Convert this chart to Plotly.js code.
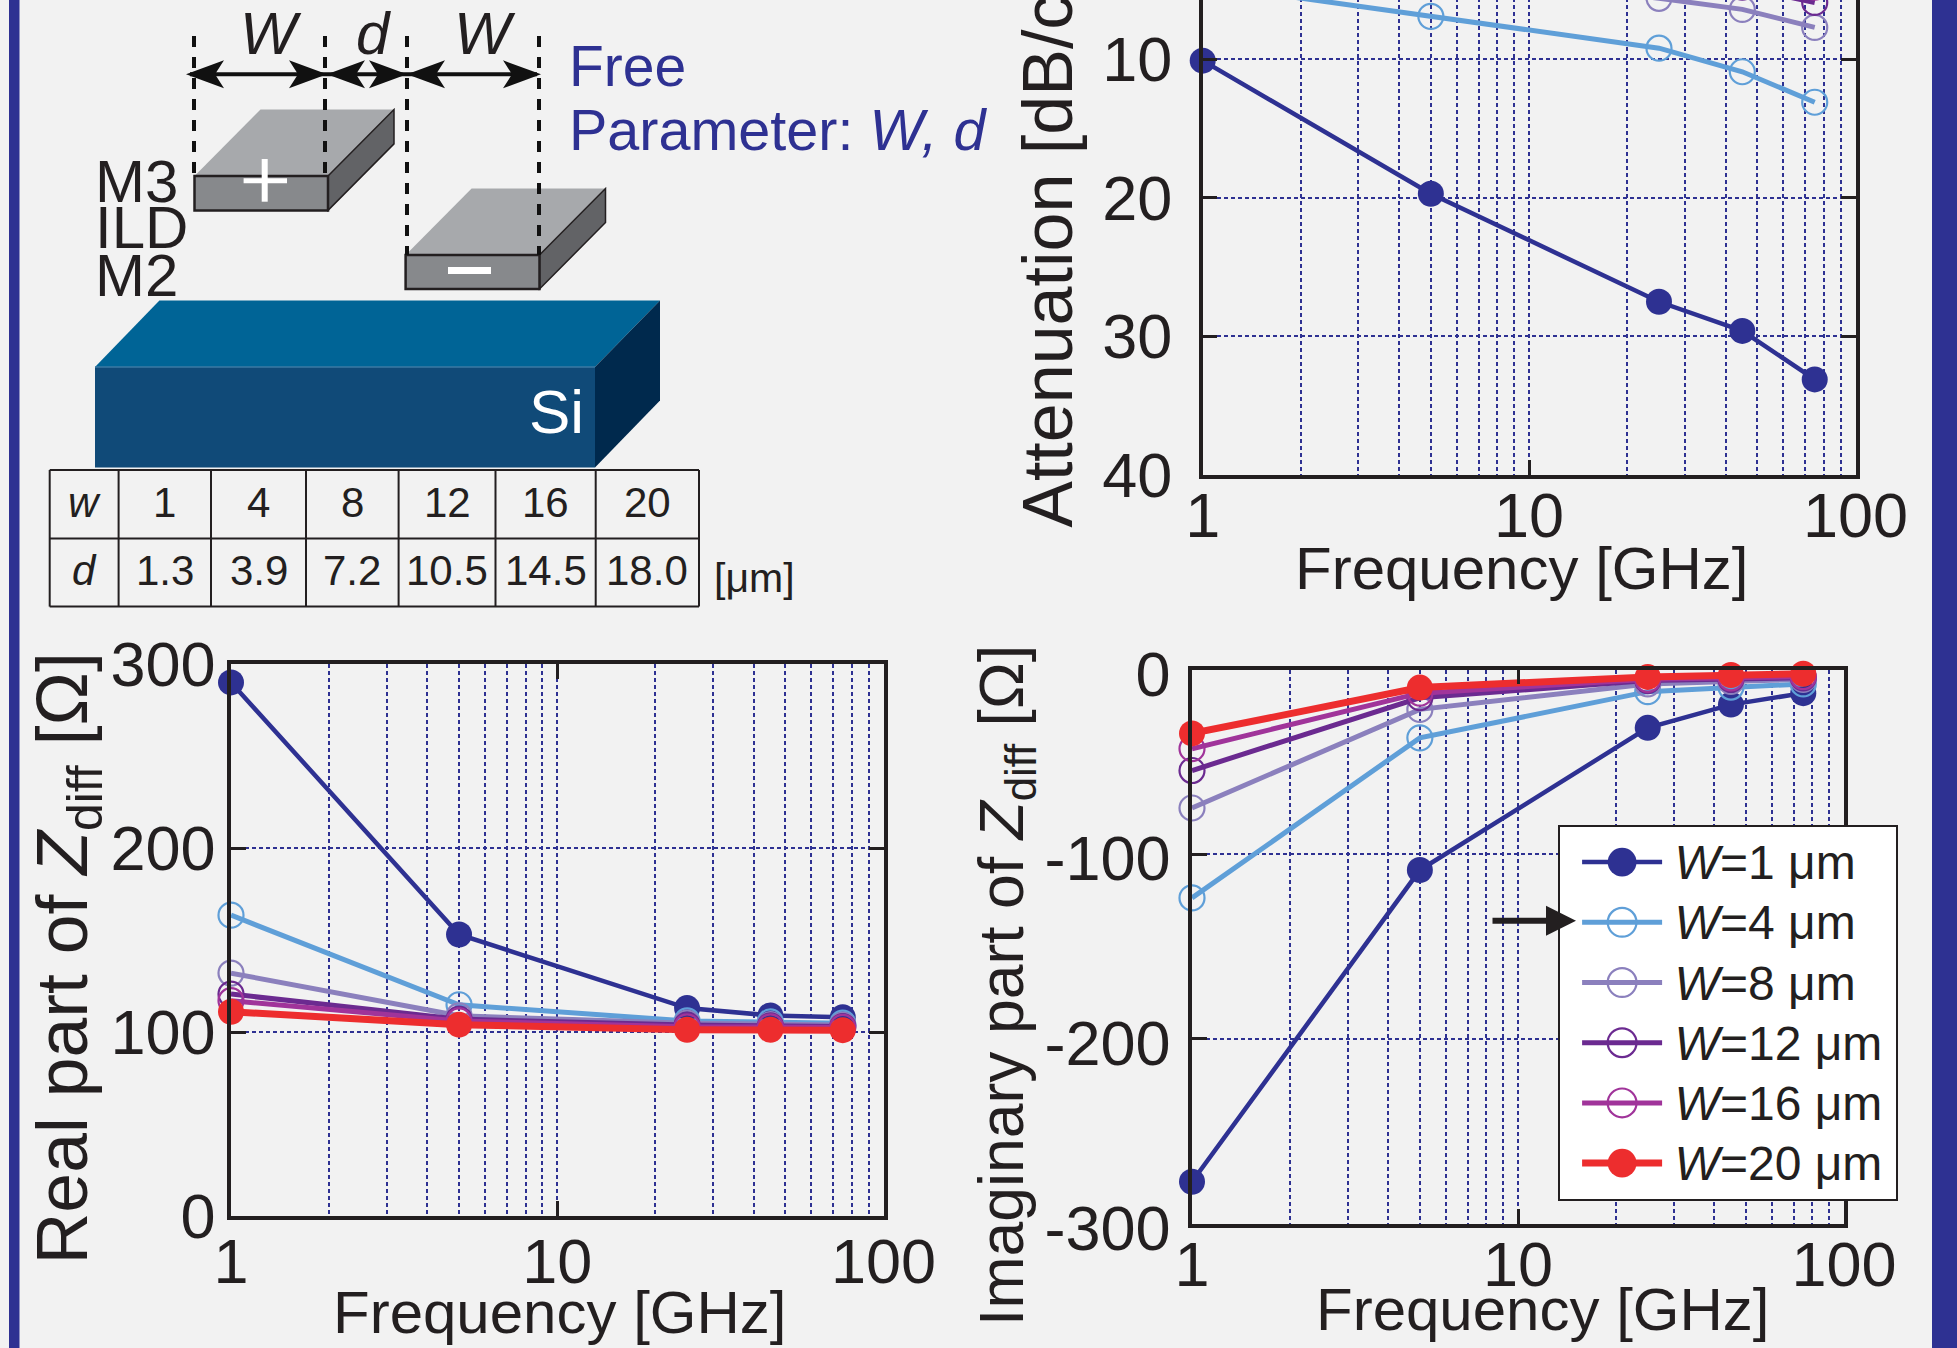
<!DOCTYPE html>
<html><head><meta charset="utf-8">
<script src="https://cdn.plot.ly/plotly-3.0.1.min.js"></script>
<style>html,body{margin:0;padding:0;background:#f2f2f2;overflow:hidden;width:1957px;height:1348px}
#c{position:absolute;left:0;top:-80px;width:1957px;height:1428px}</style>
</head><body><div id="c"></div>
<script>
// ---------- data ----------
const frequencies = [1, 5, 25, 45, 75];
const widthNames = ['<i>W</i>=1 μm','<i>W</i>=4 μm','<i>W</i>=8 μm','<i>W</i>=12 μm','<i>W</i>=16 μm','<i>W</i>=20 μm'];
const seriesColors = ['#2e3192','#5f9fd8','#8b80bd','#6b2a90','#a0349a','#ed2d2e'];
const seriesFilled = [true,false,false,false,false,true];
const seriesLine = [4.5,5,5,5,5,7];

const attW1  = [10.1, 19.7, 27.5, 29.6, 33.1];
const attW4  = [4.6, 6.9, 9.2, 10.9, 13.1];
const attW8  = [2.3, 3.6, 5.6, 6.4, 7.7];
const attW12 = [1.6, 2.5, 4.0, 4.8, 5.9];
const attW16 = [1.2, 2.0, 3.2, 3.9, 4.8];
const attW20 = [1.0, 1.6, 2.6, 3.2, 4.0];

const reW1  = [290, 153, 113, 109, 108];
const reW4  = [163.5, 114.8, 106, 105.5, 104.8];
const reW8  = [132, 108.8, 104.8, 104, 103.8];
const reW12 = [120.6, 107, 103.8, 103.4, 103];
const reW16 = [117, 106, 102.8, 102.8, 102.5];
const reW20 = [111, 104, 101.2, 101.2, 101];

const imW1  = [-277.4, -108.6, -31.6, -19, -12.8];
const imW4  = [-123.7, -37, -12, -9.5, -7.8];
const imW8  = [-75, -21.6, -7.8, -6.5, -5.3];
const imW12 = [-54.7, -15.3, -6, -5.3, -4.5];
const imW16 = [-42.9, -12.8, -5.3, -4.5, -3.8];
const imW20 = [-34.6, -9.8, -4, -3, -2.3];

const tableW = ['1','4','8','12','16','20'];
const tableD = ['1.3','3.9','7.2','10.5','14.5','18.0'];
const freqTicks = [1, 10, 100];
const freqTickText = ['1','10','100'];
const attTicks = [10,20,30,40];
const reTicks = [0,100,200,300];
const imTicks = [-300,-200,-100,0];
const imTickText = ['-300','-200','-100','0'];

// ---------- page geometry ----------
const W=1957, H=1428, OFF=80;
const fx=x=>x/W, fy=y=>1-(y+OFF)/H;
const FONT='"Liberation Sans", Arial, sans-serif', INK='#231f20', BLUE='#2e3192';
const GRID={gridcolor:BLUE,griddash:'4px,3px',gridwidth:2};

function xAxis(l,r,anchor,standoff){return Object.assign({
  type:'log',range:[0,2],domain:[fx(l),fx(r)],anchor,
  tickmode:'array',tickvals:freqTicks,ticktext:freqTickText,
  showline:true,linecolor:INK,linewidth:3.5,mirror:'ticks',
  ticks:'inside',ticklen:15,tickwidth:2.5,tickcolor:INK,
  tickfont:{family:FONT,size:63,color:INK},ticklabelstandoff:standoff,
  showgrid:true,zeroline:false,
  minor:Object.assign({dtick:'D1',showgrid:true,ticks:''},GRID)
},GRID);}
function yAxis(top,bottom,range,vals,text,anchor,standoff,shift){return Object.assign({
  range,domain:[fy(bottom),fy(top)],anchor,
  tickmode:'array',tickvals:vals,ticktext:text||vals.map(String),
  showline:true,linecolor:INK,linewidth:3.5,mirror:'ticks',
  ticks:'inside',ticklen:15,tickwidth:2.5,tickcolor:INK,
  tickfont:{family:FONT,size:63,color:INK},ticklabelstandoff:standoff,ticklabelshift:shift||0,
  showgrid:true,zeroline:false
},GRID);}
const layout={
  width:W,height:H,margin:{l:0,r:0,t:0,b:0,pad:0},autosize:false,
  paper_bgcolor:'#f2f2f2',plot_bgcolor:'#f2f2f2',font:{family:FONT,color:INK},
  xaxis:xAxis(1202.7,1855.5,'y',-17),
  yaxis:yAxis(-79.3,475,[40,0],attTicks,null,'x',14),
  xaxis2:xAxis(231,883.5,'y2',-12),
  yaxis2:yAxis(664,1216,[0,300],reTicks,null,'x2',-1),
  xaxis3:xAxis(1192,1844,'y3',-17),
  yaxis3:yAxis(669.5,1223.5,[-300,0],imTicks,imTickText,'x3',5,4),
  showlegend:true,
  legend:{x:fx(1557.6),y:fy(825),xanchor:'left',yanchor:'top',bgcolor:'#ffffff',
    bordercolor:INK,borderwidth:2,font:{family:FONT,size:44,color:INK},itemwidth:80,
    tracegroupgap:0,itemclick:false,itemdoubleclick:false},
  shapes:[],annotations:[]
};

// ---------- traces ----------
const traces=[];
function addSet(sets,xa,ya,legend){
  sets.forEach((vals,i)=>traces.push({
    x:frequencies,y:vals,xaxis:xa,yaxis:ya,type:'scatter',mode:'lines+markers',
    name:widthNames[i],showlegend:legend,cliponaxis:false,
    line:{color:seriesColors[i],width:seriesLine[i]},
    marker:seriesFilled[i]
      ?{symbol:'circle',size:26,color:seriesColors[i],line:{width:0}}
      :{symbol:'circle-open',size:25,color:seriesColors[i],line:{width:2.2,color:seriesColors[i]}}
  }));
}
addSet([attW1,attW4,attW8,attW12,attW16,attW20],'x','y',false);
addSet([reW1,reW4,reW8,reW12,reW16,reW20],'x2','y2',false);
addSet([imW1,imW4,imW8,imW12,imW16,imW20],'x3','y3',true);

// ---------- schematic helpers ----------
function poly(pts,fill,line,lw){
  const d=pts.map((p,i)=>(i?'L':'M')+fx(p[0])+' '+fy(p[1])).join(' ')+' Z';
  layout.shapes.push({type:'path',xref:'paper',yref:'paper',path:d,fillcolor:fill,
    line:{color:line||fill,width:lw===undefined?(line?2:0):lw},layer:'below'});
}
function seg(x0,y0,x1,y1,color,w,dash){
  layout.shapes.push({type:'line',xref:'paper',yref:'paper',x0:fx(x0),y0:fy(y0),x1:fx(x1),y1:fy(y1),
    line:{color,width:w,dash:dash||'solid'},layer:'below'});
}
function txt(s,x,base,size,color,anchor){
  layout.annotations.push({xref:'paper',yref:'paper',x:fx(x),y:fy(base-0.346*size),text:s,showarrow:false,
    xanchor:anchor||'center',yanchor:'middle',font:{family:FONT,size,color:color||INK},borderpad:0,borderwidth:0});
}
function vtxt(s,baseX,cy,size){
  layout.annotations.push({xref:'paper',yref:'paper',x:fx(baseX-0.346*size),y:fy(cy),text:s,showarrow:false,textangle:-90,
    xanchor:'center',yanchor:'middle',font:{family:FONT,size,color:INK},borderpad:0,borderwidth:0});
}
function head(tip,dir){
  const y=74.3;
  poly([[tip,y],[tip+dir*38,y-14],[tip+dir*29,y],[tip+dir*38,y+14]],'#111');
}

// frame strips
poly([[9,-80],[19.5,-80],[19.5,1348],[9,1348]],BLUE);
poly([[1932,-80],[1957,-80],[1957,1348],[1932,1348]],BLUE);

// silicon block
poly([[95,367],[159.4,300.5],[660,300.5],[595,367]],'#006496');
poly([[595,367],[660,300.5],[660,400.6],[595,467.4]],'#00294d');
poly([[95,367],[595,367],[595,467.4],[95,467.4]],'#104a78');
seg(95,367,595,367,'#3b7aa3',1.5);

// metal blocks
function block(x0,x1,yt,yb,dx,dy){
  poly([[x0,yt],[x0+dx,yt-dy],[x1+dx,yt-dy],[x1,yt]],'#a7a9ac');
  poly([[x1,yt],[x1+dx,yt-dy],[x1+dx,yb-dy],[x1,yb]],'#626366',INK,1.5);
  poly([[x0,yt],[x1,yt],[x1,yb],[x0,yb]],'#87898c',INK,2.5);
}
block(194.5,328,176,210.4,66,66.5);
block(405.6,539.5,255,289,66,66.5);

// dimension lines
[[194,176],[325,176],[407,255],[539,255]].forEach(p=>seg(p[0],36,p[0],p[1],'#111',4,'11px,10px'));
seg(190,74.3,537,74.3,'#111',4);
head(186,1);head(327,-1);head(327,1);head(407,-1);head(407,1);head(541,-1);

// + and - signs
poly([[243.6,178.2],[287,178.2],[287,183.2],[243.6,183.2]],'#fff');
poly([[261.7,159],[267.7,159],[267.7,201.7],[261.7,201.7]],'#fff');
poly([[448,267],[491,267],[491,274],[448,274]],'#fff');

// schematic labels
txt('<i>W</i>',271,54,60);
txt('<i>d</i>',373,54,60);
txt('<i>W</i>',485,54,60);
txt('Free',569,86,57,BLUE,'left');
txt('Parameter: <i>W, d</i>',569,150,57.5,BLUE,'left');
txt('M3',94.5,202.5,60,INK,'left');
txt('ILD',94.5,248,60,INK,'left');
txt('M2',94.5,296,60,INK,'left');
txt('Si',556,433,62,'#ffffff');

// parameter table
const colX=[49.7,118.6,211,306,398.6,495.5,595.7,699], rowY=[470,538.5,606.6];
colX.forEach(x=>seg(x,rowY[0],x,rowY[2],INK,2));
rowY.forEach(y=>seg(colX[0],y,colX[7],y,INK,2));
txt('<i>w</i>',84,517,42);
txt('<i>d</i>',84,585,42);
tableW.forEach((t,i)=>txt(t,(colX[i+1]+colX[i+2])/2,517,42));
tableD.forEach((t,i)=>txt(t,(colX[i+1]+colX[i+2])/2,585,42));
txt('[μm]',714,592,41,INK,'left');

// axis titles
txt('Frequency [GHz]',1522,589,60);
txt('Frequency [GHz]',560,1333,60);
txt('Frequency [GHz]',1543,1330,60);
vtxt('Attenuation [dB/cm]',1072,222,70);
vtxt('Real part of <i>Z</i><sub>diff</sub> [Ω]',92,958,71.5);
vtxt('Imaginary part of <i>Z</i><sub>diff</sub> [Ω]',1027,985.5,62.5);

// arrow to the legend
layout.annotations.push({xref:'paper',yref:'paper',x:fx(1576),y:fy(920.8),ax:-85,ay:0,axref:'pixel',ayref:'pixel',
  text:'',showarrow:true,arrowhead:2,arrowsize:1,arrowwidth:6,arrowcolor:INK});

Plotly.newPlot('c',traces,layout,{displayModeBar:false,responsive:false}).then(()=>{
  // legend entries: symbol size, indent and label size as in the figure
  document.querySelectorAll('.legend .legendpoints path.scatterpts').forEach(p=>{
    const t=p.getAttribute('transform')||'';
    if(!t.includes('scale')) p.setAttribute('transform',t+' scale(1.8)');
    if(p.style.strokeWidth) p.style.strokeWidth=(parseFloat(p.style.strokeWidth)/1.8)+'px';
  });
  document.querySelectorAll('.legend .traces').forEach(g=>{
    g.querySelectorAll('.legendsymbols, .legendlines').forEach(s=>s.setAttribute('transform','translate(17.5,0)'));
    const tx=g.querySelector('text.legendtext');
    if(tx){
      tx.style.fontSize='48px';
      tx.setAttribute('x',String(parseFloat(tx.getAttribute('x')||0)+25));
      tx.querySelectorAll('tspan[x]').forEach(s=>s.setAttribute('x',String(parseFloat(s.getAttribute('x'))+25)));
    }
  });
  const box=document.querySelector('.legend .scrollbox');
  if(box){
    box.removeAttribute('clip-path');
    box.style.clipPath='none';
  }
  const bg=document.querySelector('.legend rect.bg');
  if(bg) bg.setAttribute('width','338');
});
</script></body></html>
